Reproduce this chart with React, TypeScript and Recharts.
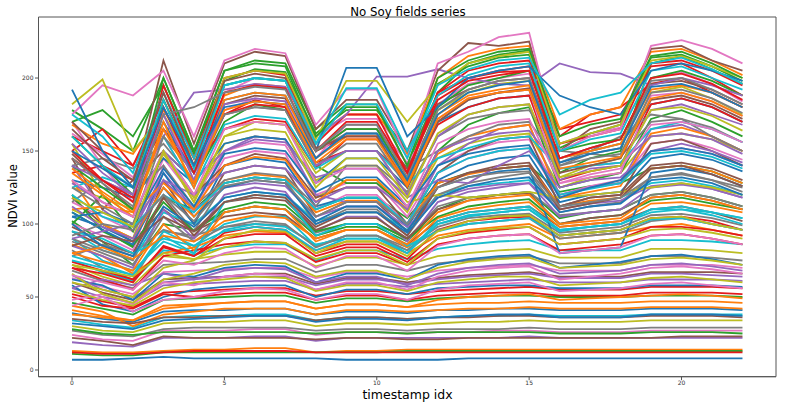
import React from "react";
import { LineChart, Line, XAxis, YAxis, ReferenceArea } from "recharts";

// timestamp index on the x axis
const timestamps = [0, 1, 2, 3, 4, 5, 6, 7, 8, 9, 10, 11, 12, 13, 14, 15, 16, 17, 18, 19, 20, 21, 22];

// fields with low, almost flat NDVI
const lowFields: number[][] = [
  [7, 7, 8, 9, 8, 8, 8, 8, 8, 7, 7, 7, 7, 8, 8, 8, 8, 8, 8, 8, 8, 8, 8],
  [13, 12, 12, 13, 14, 14, 15, 15, 12, 13, 13, 14, 14, 14, 14, 14, 14, 14, 14, 14, 14, 14, 14],
  [11, 10, 10, 12, 12, 12, 12, 12, 12, 12, 12, 13, 13, 13, 13, 13, 13, 13, 13, 13, 13, 13, 13],
  [12, 11, 11, 12, 13, 13, 13, 13, 12, 12, 12, 12, 12, 12, 12, 12, 12, 12, 12, 12, 12, 12, 12],
  [19, 17, 16, 22, 22, 22, 23, 23, 20, 22, 22, 22, 22, 22, 22, 23, 22, 22, 22, 22, 22, 22, 22],
  [22, 20, 17, 23, 22, 22, 22, 22, 21, 22, 22, 21, 21, 22, 22, 22, 22, 22, 22, 22, 23, 23, 23],
  [24, 21, 20, 27, 27, 27, 28, 28, 24, 26, 26, 25, 26, 26, 27, 27, 26, 26, 26, 27, 27, 27, 27],
  [27, 24, 23, 28, 29, 29, 29, 29, 27, 28, 28, 27, 28, 28, 28, 29, 28, 28, 28, 29, 29, 29, 29],
  [30, 27, 26, 32, 33, 33, 34, 34, 30, 32, 32, 31, 32, 33, 33, 34, 33, 33, 33, 34, 34, 34, 34],
  [34, 31, 29, 36, 37, 37, 38, 38, 34, 36, 36, 35, 36, 37, 37, 38, 37, 37, 37, 38, 38, 38, 38],
  [39, 35, 33, 40, 41, 41, 42, 42, 38, 40, 40, 39, 41, 41, 42, 42, 41, 41, 41, 42, 42, 42, 41],
  [41, 37, 34, 44, 45, 46, 47, 47, 42, 45, 45, 43, 45, 46, 46, 47, 46, 46, 46, 47, 47, 47, 46],
  [46, 42, 38, 48, 49, 50, 51, 51, 46, 49, 49, 47, 49, 50, 51, 51, 50, 50, 50, 51, 51, 51, 50],
  [52, 47, 43, 53, 54, 55, 56, 56, 51, 54, 54, 52, 54, 55, 56, 57, 55, 55, 55, 57, 57, 57, 56],
  [56, 50, 46, 58, 59, 60, 61, 61, 55, 59, 59, 57, 59, 60, 61, 62, 60, 60, 60, 62, 62, 62, 61],
  [60, 53, 48, 62, 63, 64, 66, 66, 59, 63, 63, 60, 63, 65, 66, 67, 64, 64, 64, 67, 67, 67, 66],
  [63, 57, 52, 67, 68, 69, 70, 70, 63, 67, 67, 64, 68, 70, 71, 72, 68, 68, 68, 72, 72, 72, 70],
  [68, 61, 56, 72, 73, 74, 76, 76, 67, 72, 72, 68, 73, 75, 77, 78, 73, 73, 73, 78, 78, 77, 75],
  [72, 64, 58, 78, 76, 79, 81, 81, 71, 77, 77, 72, 78, 80, 82, 83, 77, 77, 77, 83, 83, 82, 80],
  [75, 67, 61, 82, 79, 84, 86, 86, 75, 82, 82, 76, 83, 86, 88, 89, 82, 82, 82, 89, 89, 88, 86],
  [58, 45, 40, 50, 55, 57, 58, 58, 50, 55, 55, 52, 56, 57, 58, 58, 56, 56, 56, 58, 58, 58, 57],
  [44, 40, 30, 38, 40, 42, 42, 42, 38, 41, 41, 40, 41, 42, 42, 43, 42, 42, 42, 43, 43, 43, 42],
  [28, 25, 24, 26, 26, 26, 26, 26, 25, 26, 26, 25, 26, 26, 26, 26, 25, 25, 25, 26, 26, 26, 25],
  [50, 44, 42, 52, 50, 52, 53, 53, 48, 51, 51, 48, 51, 52, 53, 53, 51, 51, 51, 53, 53, 53, 52],
  [65, 55, 50, 60, 62, 64, 64, 64, 58, 62, 62, 59, 62, 64, 65, 66, 63, 63, 63, 66, 66, 65, 64],
  [35, 33, 32, 36, 36, 37, 37, 37, 34, 36, 36, 35, 36, 36, 37, 37, 36, 36, 36, 37, 37, 37, 36],
];

// fields between the flat ones and the main crop band
const lowerMidFields: number[][] = [
  [48, 52, 45, 60, 58, 64, 66, 65, 55, 60, 60, 55, 64, 68, 70, 71, 62, 64, 66, 70, 71, 69, 66],
  [82, 70, 62, 95, 92, 98, 100, 99, 85, 92, 92, 84, 98, 104, 106, 107, 94, 96, 98, 106, 107, 104, 99],
  [54, 48, 44, 56, 60, 62, 64, 63, 54, 58, 58, 54, 60, 62, 64, 64, 58, 59, 60, 63, 64, 62, 60],
  [90, 75, 68, 88, 80, 96, 100, 98, 86, 90, 90, 82, 100, 106, 108, 110, 96, 98, 100, 108, 110, 106, 100],
  [62, 58, 48, 66, 64, 70, 72, 71, 60, 66, 66, 62, 72, 76, 78, 79, 70, 72, 74, 78, 79, 76, 72],
  [38, 36, 34, 42, 44, 46, 47, 47, 42, 45, 45, 43, 48, 50, 51, 52, 48, 49, 50, 51, 52, 51, 49],
  [102, 88, 72, 100, 96, 108, 112, 110, 92, 98, 98, 88, 110, 118, 120, 122, 104, 108, 110, 120, 122, 118, 112],
  [70, 62, 55, 78, 82, 86, 88, 87, 74, 80, 80, 72, 86, 90, 92, 93, 82, 84, 86, 92, 93, 90, 86],
  [56, 62, 58, 66, 62, 68, 70, 69, 60, 64, 64, 58, 66, 70, 72, 73, 66, 67, 68, 72, 73, 71, 68],
  [118, 100, 88, 110, 95, 105, 108, 106, 90, 96, 96, 86, 102, 108, 110, 112, 98, 100, 102, 110, 112, 108, 102],
  [44, 50, 40, 48, 50, 54, 56, 55, 48, 52, 52, 48, 55, 58, 59, 60, 54, 55, 56, 59, 60, 58, 56],
  [78, 86, 80, 96, 90, 108, 112, 110, 94, 100, 100, 90, 112, 118, 120, 122, 106, 108, 110, 120, 122, 118, 112],
  [66, 52, 46, 62, 66, 72, 74, 73, 64, 68, 68, 62, 70, 74, 76, 77, 70, 71, 72, 76, 77, 75, 72],
  [95, 82, 76, 108, 100, 118, 122, 120, 102, 108, 108, 96, 120, 126, 128, 130, 112, 115, 118, 128, 130, 126, 120],
  [32, 30, 28, 34, 35, 36, 37, 37, 33, 35, 35, 34, 36, 37, 38, 38, 36, 36, 36, 38, 38, 38, 37],
  [86, 78, 66, 80, 84, 92, 95, 94, 82, 88, 88, 80, 92, 96, 98, 100, 90, 92, 94, 98, 100, 96, 92],
  [108, 96, 84, 118, 110, 128, 132, 130, 110, 118, 118, 104, 128, 135, 138, 140, 122, 126, 128, 138, 140, 136, 128],
  [74, 68, 62, 84, 78, 94, 98, 96, 80, 86, 86, 76, 96, 102, 104, 105, 92, 94, 96, 104, 105, 102, 96],
];

// fields in the middle of the range
const midFields: number[][] = [
  [85, 78, 70, 110, 90, 120, 125, 122, 95, 105, 105, 88, 115, 122, 125, 128, 105, 108, 110, 125, 127, 124, 118],
  [95, 85, 78, 130, 100, 135, 140, 138, 105, 115, 115, 95, 128, 135, 140, 142, 112, 118, 120, 140, 142, 138, 130],
  [100, 92, 82, 140, 108, 145, 150, 148, 110, 120, 120, 100, 135, 145, 150, 152, 118, 125, 128, 150, 152, 148, 140],
  [90, 82, 75, 120, 95, 128, 132, 130, 100, 110, 110, 92, 120, 128, 132, 135, 108, 112, 115, 132, 135, 130, 125],
  [110, 100, 90, 150, 115, 155, 160, 158, 118, 130, 130, 108, 145, 155, 160, 162, 125, 132, 135, 160, 162, 158, 150],
  [75, 70, 65, 95, 85, 100, 105, 105, 85, 92, 92, 80, 100, 105, 108, 110, 95, 98, 100, 110, 110, 108, 104],
  [105, 98, 88, 125, 100, 140, 145, 142, 112, 118, 118, 98, 130, 140, 145, 147, 115, 120, 122, 145, 148, 144, 136],
  [80, 74, 68, 100, 82, 108, 112, 110, 88, 96, 96, 84, 104, 110, 113, 115, 98, 100, 102, 114, 115, 112, 108],
  [120, 95, 85, 115, 95, 110, 115, 113, 95, 100, 100, 90, 105, 112, 115, 117, 100, 104, 106, 116, 118, 114, 110],
  [70, 66, 60, 85, 78, 90, 93, 93, 78, 84, 84, 74, 90, 94, 96, 98, 86, 88, 90, 98, 98, 96, 92],
  [140, 110, 95, 135, 110, 125, 128, 126, 105, 112, 112, 98, 118, 124, 127, 128, 110, 114, 116, 126, 128, 124, 118],
  [98, 88, 80, 118, 92, 115, 118, 116, 96, 104, 104, 90, 110, 116, 120, 121, 100, 104, 106, 118, 120, 116, 110],
  [115, 105, 95, 145, 118, 150, 156, 154, 120, 128, 128, 105, 140, 150, 156, 158, 120, 126, 130, 155, 158, 152, 144],
  [88, 80, 72, 105, 88, 98, 102, 100, 84, 92, 92, 82, 96, 100, 102, 104, 90, 92, 94, 102, 104, 100, 96],
  [125, 118, 110, 160, 135, 165, 170, 168, 130, 140, 140, 115, 120, 118, 120, 122, 118, 120, 122, 125, 128, 125, 120],
  [78, 72, 65, 92, 80, 115, 120, 118, 92, 100, 100, 85, 95, 100, 102, 104, 92, 94, 96, 103, 104, 100, 96],
  [108, 96, 86, 135, 105, 125, 130, 128, 102, 112, 112, 95, 125, 132, 136, 138, 80, 82, 84, 135, 138, 134, 126],
  [130, 100, 90, 125, 105, 130, 134, 132, 108, 116, 116, 100, 128, 134, 138, 140, 112, 116, 118, 138, 140, 136, 128],
];

// fields with less regular curves
const mixedFields: number[][] = [
  [100, 120, 95, 150, 130, 170, 182, 178, 140, 128, 128, 110, 150, 168, 176, 180, 125, 130, 135, 172, 178, 170, 160],
  [160, 150, 140, 178, 150, 175, 185, 180, 150, 160, 160, 135, 188, 200, 205, 208, 165, 170, 175, 208, 210, 200, 188],
  [90, 95, 100, 130, 110, 150, 160, 158, 120, 115, 115, 100, 140, 155, 165, 168, 120, 125, 128, 165, 168, 160, 150],
  [145, 110, 130, 150, 120, 140, 148, 145, 118, 125, 125, 100, 135, 150, 158, 160, 112, 118, 120, 155, 158, 150, 140],
  [170, 140, 115, 160, 125, 190, 200, 198, 160, 172, 172, 150, 182, 196, 200, 203, 155, 162, 166, 200, 204, 196, 184],
  [115, 130, 120, 140, 112, 130, 135, 133, 112, 140, 140, 122, 160, 172, 176, 178, 150, 148, 146, 170, 172, 166, 156],
  [60, 55, 50, 70, 75, 90, 96, 95, 80, 88, 88, 78, 95, 102, 105, 106, 92, 94, 96, 104, 105, 100, 96],
  [95, 90, 80, 90, 85, 95, 98, 96, 82, 90, 90, 80, 102, 108, 110, 112, 96, 98, 100, 110, 112, 108, 104],
  [130, 125, 118, 145, 128, 155, 160, 158, 128, 145, 145, 125, 170, 180, 186, 188, 145, 150, 155, 182, 186, 180, 170],
  [110, 112, 108, 128, 110, 140, 146, 144, 115, 130, 130, 110, 148, 160, 165, 168, 118, 122, 126, 162, 166, 160, 150],
  [178, 165, 150, 200, 150, 198, 206, 204, 162, 178, 178, 150, 196, 208, 214, 216, 152, 162, 168, 214, 216, 208, 198],
  [150, 165, 140, 185, 140, 165, 172, 170, 138, 158, 158, 128, 168, 180, 186, 188, 130, 136, 140, 182, 186, 180, 170],
  [128, 115, 105, 150, 130, 150, 158, 156, 132, 138, 138, 118, 130, 128, 140, 150, 125, 130, 132, 150, 155, 150, 142],
  [85, 92, 88, 105, 95, 115, 120, 118, 98, 108, 108, 92, 125, 135, 138, 140, 110, 114, 118, 138, 140, 134, 126],
  [65, 60, 55, 75, 72, 80, 84, 83, 70, 78, 78, 68, 85, 90, 92, 93, 80, 82, 84, 92, 93, 90, 86],
  [140, 145, 138, 155, 130, 175, 180, 178, 150, 162, 162, 138, 150, 160, 168, 170, 142, 150, 160, 175, 172, 160, 150],
  [155, 120, 105, 148, 118, 160, 170, 168, 135, 150, 150, 120, 178, 190, 196, 198, 132, 140, 145, 190, 194, 186, 175],
  [120, 105, 98, 120, 108, 128, 132, 130, 110, 118, 118, 100, 135, 145, 150, 152, 120, 124, 128, 148, 150, 146, 138],
  [100, 85, 78, 112, 98, 118, 122, 120, 100, 108, 108, 94, 118, 126, 130, 132, 108, 112, 114, 130, 132, 128, 120],
  [80, 84, 76, 92, 88, 102, 106, 104, 90, 96, 96, 86, 108, 116, 118, 120, 100, 102, 104, 118, 120, 116, 110],
  [170, 178, 160, 195, 148, 205, 212, 210, 165, 182, 182, 140, 190, 210, 216, 219, 135, 145, 150, 210, 215, 206, 196],
  [135, 140, 130, 165, 135, 175, 182, 180, 142, 150, 150, 132, 190, 200, 204, 205, 160, 175, 180, 196, 200, 190, 180],
  [112, 98, 90, 130, 120, 135, 140, 138, 115, 125, 125, 110, 150, 158, 162, 164, 138, 140, 142, 160, 162, 158, 148],
  [148, 128, 110, 165, 140, 182, 188, 186, 150, 165, 165, 138, 182, 192, 198, 200, 145, 152, 158, 196, 198, 192, 182],
  [162, 148, 132, 175, 135, 178, 186, 184, 145, 168, 168, 142, 172, 186, 190, 192, 128, 132, 135, 188, 190, 184, 174],
  [92, 100, 96, 120, 102, 126, 130, 128, 105, 115, 115, 100, 125, 132, 135, 136, 112, 115, 118, 132, 134, 130, 122],
  [72, 68, 64, 80, 76, 84, 88, 87, 76, 82, 82, 72, 90, 95, 97, 98, 86, 88, 90, 96, 97, 94, 90],
  [125, 132, 125, 160, 125, 168, 174, 172, 138, 150, 150, 128, 145, 152, 158, 160, 138, 140, 142, 165, 170, 165, 156],
  [105, 108, 100, 138, 112, 148, 152, 150, 122, 132, 132, 112, 140, 148, 152, 154, 118, 125, 130, 150, 152, 148, 140],
  [168, 155, 148, 178, 145, 188, 196, 194, 160, 175, 175, 148, 200, 215, 220, 222, 165, 175, 180, 218, 220, 212, 202],
];

// fields with the strongest seasonal peaks
const highFields: number[][] = [
  [140, 125, 110, 185, 140, 195, 200, 198, 150, 165, 165, 130, 180, 195, 200, 205, 150, 155, 158, 200, 205, 198, 188],
  [150, 130, 115, 195, 145, 200, 205, 202, 155, 175, 175, 135, 190, 205, 210, 212, 155, 160, 165, 210, 212, 205, 195],
  [140, 130, 120, 160, 190, 192, 196, 194, 160, 175, 201, 201, 206, 200, 196, 195, 210, 204, 203, 195, 200, 195, 188],
  [170, 150, 125, 212, 155, 210, 218, 215, 165, 185, 185, 150, 205, 224, 222, 225, 150, 165, 170, 220, 222, 212, 205],
  [175, 195, 188, 205, 160, 212, 220, 217, 168, 192, 192, 145, 210, 218, 228, 231, 150, 160, 165, 222, 226, 220, 210],
  [125, 112, 100, 160, 135, 175, 180, 178, 140, 155, 155, 125, 170, 185, 190, 192, 140, 145, 148, 190, 192, 186, 176],
  [182, 199, 150, 175, 140, 200, 205, 203, 158, 198, 198, 170, 195, 210, 215, 218, 155, 162, 168, 212, 215, 208, 200],
  [175, 160, 135, 190, 145, 195, 200, 198, 155, 193, 193, 150, 188, 202, 208, 210, 150, 158, 162, 205, 208, 200, 192],
  [192, 150, 125, 170, 135, 185, 190, 188, 150, 207, 207, 160, 180, 200, 205, 208, 188, 180, 175, 205, 210, 205, 198],
  [135, 120, 105, 170, 125, 185, 190, 188, 145, 160, 160, 128, 175, 188, 192, 195, 145, 150, 155, 192, 195, 190, 180],
  [160, 140, 120, 200, 150, 205, 210, 208, 160, 180, 180, 140, 200, 212, 218, 220, 160, 168, 172, 215, 218, 210, 200],
  [145, 130, 118, 180, 135, 190, 195, 193, 150, 170, 170, 135, 185, 198, 202, 205, 145, 152, 158, 200, 203, 196, 185],
  [155, 135, 120, 175, 130, 182, 186, 184, 140, 150, 150, 120, 160, 175, 180, 182, 130, 138, 140, 178, 182, 175, 168],
  [165, 145, 130, 190, 140, 198, 203, 200, 152, 160, 160, 125, 170, 185, 190, 193, 135, 140, 145, 185, 188, 182, 172],
  [130, 115, 105, 150, 120, 165, 170, 168, 128, 138, 138, 112, 155, 165, 170, 172, 128, 134, 138, 168, 170, 165, 156],
  [145, 128, 112, 175, 180, 190, 194, 192, 150, 168, 168, 132, 178, 192, 198, 200, 140, 148, 152, 198, 200, 192, 182],
  [118, 108, 98, 150, 115, 160, 165, 163, 125, 145, 145, 118, 162, 175, 180, 182, 132, 136, 140, 178, 180, 174, 164],
  [160, 140, 125, 185, 138, 195, 200, 198, 155, 182, 182, 145, 195, 206, 212, 214, 175, 185, 190, 210, 214, 206, 196],
  [150, 138, 125, 180, 140, 180, 184, 182, 145, 162, 162, 130, 175, 190, 195, 198, 142, 148, 152, 194, 196, 190, 180],
  [138, 122, 108, 165, 128, 178, 184, 182, 142, 158, 158, 126, 172, 186, 190, 192, 138, 142, 146, 186, 190, 184, 174],
];

const palette = ["#1f77b4", "#ff7f0e", "#2ca02c", "#e41a1c", "#9467bd", "#8c564b", "#e377c2", "#7f7f7f", "#bcbd22", "#17becf"];

const allFields = [...lowFields, ...lowerMidFields, ...midFields, ...mixedFields, ...highFields];

const chartData = timestamps.map((t, i) => {
  const row: Record<string, number> = { t };
  allFields.forEach((s, k) => {
    row[`s${k}`] = s[i];
  });
  return row;
});

const font = "'DejaVu Sans', sans-serif";
const tickStyle = { fontSize: 6, fill: "#333", fontFamily: font };

export default function App() {
  return (
    <div style={{ position: "absolute", left: 0, top: 0, width: 787, height: 406, background: "#fff" }}>
      <LineChart
        width={787}
        height={406}
        data={chartData}
        margin={{ top: 17, right: 11, left: 0, bottom: 0 }}
      >
        <XAxis
          dataKey="t"
          type="number"
          domain={[-1.1, 23.1]}
          allowDataOverflow
          ticks={[0, 5, 10, 15, 20]}
          height={29.3}
          tickSize={3.5}
          tickMargin={1}
          stroke="#555"
          tick={tickStyle}
        />
        <YAxis
          type="number"
          domain={[-4.6, 241.8]}
          allowDataOverflow
          ticks={[0, 50, 100, 150, 200]}
          width={38.5}
          tickSize={3.5}
          tickMargin={1.5}
          stroke="#555"
          tick={tickStyle}
        />
        {allFields.map((_, k) => (
          <Line
            key={k}
            type="linear"
            dataKey={`s${k}`}
            stroke={palette[k % 10]}
            strokeWidth={1.8}
            dot={false}
            activeDot={false}
            isAnimationActive={false}
          />
        ))}
        <ReferenceArea
          x1={-1.1}
          x2={23.1}
          y1={-4.6}
          y2={241.8}
          fill="none"
          stroke="#555"
          strokeWidth={1}
          ifOverflow="visible"
        />
      </LineChart>
      <svg
        width={787}
        height={406}
        style={{ position: "absolute", left: 0, top: 0, pointerEvents: "none" }}
      >
        <text x={408} y={15.5} textAnchor="middle" fontSize={11.8} fontFamily={font} fill="#000">
          No Soy fields series
        </text>
        <text x={407.5} y={399} textAnchor="middle" fontSize={12.5} fontFamily={font} fill="#000">
          timestamp idx
        </text>
        <text
          x={16.5}
          y={196}
          textAnchor="middle"
          fontSize={11.5}
          fontFamily={font}
          fill="#000"
          transform="rotate(-90 16.5 196)"
        >
          NDVI value
        </text>
      </svg>
    </div>
  );
}
